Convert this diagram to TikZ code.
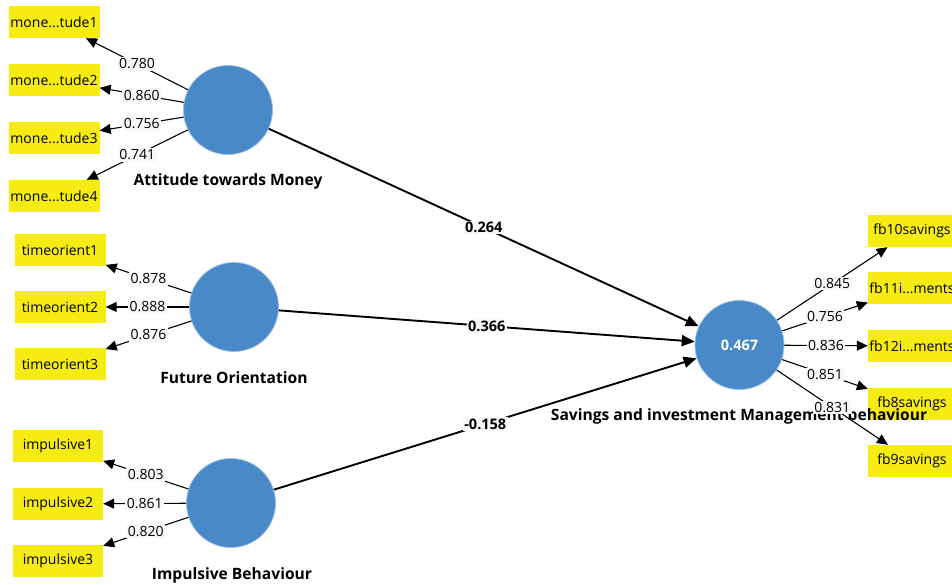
\documentclass[tikz,border=0pt]{standalone}
\usepackage{fontspec}
\setmainfont{Open Sans}
\usetikzlibrary{arrows.meta}
\definecolor{lvblue}{RGB}{74,137,200}
\definecolor{lvedge}{RGB}{150,190,232}
\definecolor{mvyellow}{RGB}{246,236,20}
\definecolor{lblbg}{RGB}{248,248,248}
\begin{document}
\begin{tikzpicture}[x=1pt,y=-1pt,
  lv/.style={circle,fill=lvblue,draw=lvedge,line width=0.8pt,minimum size=89pt,inner sep=0pt,text=white,font=\bfseries\fontsize{14.5}{16}\selectfont},
  mv/.style={fill=mvyellow,minimum width=91pt,minimum height=32pt,inner sep=0pt,font=\fontsize{14}{16}\selectfont},
  mvr/.style={mv,minimum width=88pt},
  lvname/.style={font=\bfseries\fontsize{15.6}{18}\selectfont,inner sep=0pt},
  ld/.style={-{Triangle[length=11pt,width=10pt]},line width=1.1pt},
  ll/.style={fill=lblbg,inner sep=1.5pt,font=\fontsize{14}{16}\selectfont},
  pl/.style={-{Triangle[length=13pt,width=11pt]},line width=1.9pt},
  plab/.style={fill=lblbg,inner sep=1.5pt,font=\bfseries\fontsize{14.5}{16}\selectfont}]
\useasboundingbox (0,0) rectangle (952,585);
\clip (0,0) rectangle (952,585);
\fill[white] (0,0) rectangle (952,585);
% indicators
\node[mv] (m1) at (54,22) {mone...tude1};
\node[mv] (m2) at (54,80) {mone...tude2};
\node[mv] (m3) at (54,138) {mone...tude3};
\node[mv] (m4) at (54,196) {mone...tude4};
\node[mv] (t1) at (60,250) {timeorient1};
\node[mv] (t2) at (60,307) {timeorient2};
\node[mv] (t3) at (60,364) {timeorient3};
\node[mv,minimum width=90pt] (i1) at (58,446) {impulsive1};
\node[mv,minimum width=90pt] (i2) at (58,504) {impulsive2};
\node[mv,minimum width=90pt] (i3) at (58,561) {impulsive3};
\node[mvr] (f10) at (912,231) {fb10savings};
\node[mvr] (f11) at (912,288) {fb11i...ments};
\node[mvr] (f12) at (912,346) {fb12i...ments};
\node[mvr] (f8) at (912,404) {fb8savings};
\node[mvr] (f9) at (912,461) {fb9savings};
% latent variables
\node[lv] (atm) at (228,110) {};
\node[lv] (fo) at (234,307) {};
\node[lv] (ib) at (231,503) {};
\node[lv] (sim) at (739.5,345) {0.467};
% names
\node[lvname] (atmname) at (228,181) {Attitude towards Money};
\node[lvname] (foname) at (234,378) {Future Orientation};
\node[lvname] (ibname) at (232,575) {Impulsive Behaviour};
\node[lvname] (simname) at (739,416) {Savings and investment Management behaviour};
% loadings
\draw[ld] (atm) -- node[ll]{0.780} (m1);
\draw[ld] (atm) -- node[ll]{0.860} (m2);
\draw[ld] (atm) -- node[ll]{0.756} (m3);
\draw[ld] (atm) -- node[ll]{0.741} (m4);
\draw[ld] (fo) -- node[ll]{0.878} (t1);
\draw[ld] (fo) -- node[ll]{0.888} (t2);
\draw[ld] (fo) -- node[ll]{0.876} (t3);
\draw[ld] (ib) -- node[ll]{0.803} (i1);
\draw[ld] (ib) -- node[ll]{0.861} (i2);
\draw[ld] (ib) -- node[ll]{0.820} (i3);
\draw[ld] (sim) -- node[ll]{0.845} (f10);
\draw[ld] (sim) -- node[ll]{0.756} (f11);
\draw[ld] (sim) -- node[ll]{0.836} (f12);
\draw[ld] (sim) -- node[ll]{0.851} (f8);
\draw[ld] (sim) -- node[ll]{0.831} (f9);
% paths
\draw[pl] (atm) -- node[plab]{0.264} (sim);
\draw[pl] (fo) -- node[plab]{0.366} (sim);
\draw[pl] (ib) -- node[plab]{-0.158} (sim);
\end{tikzpicture}
\end{document}
